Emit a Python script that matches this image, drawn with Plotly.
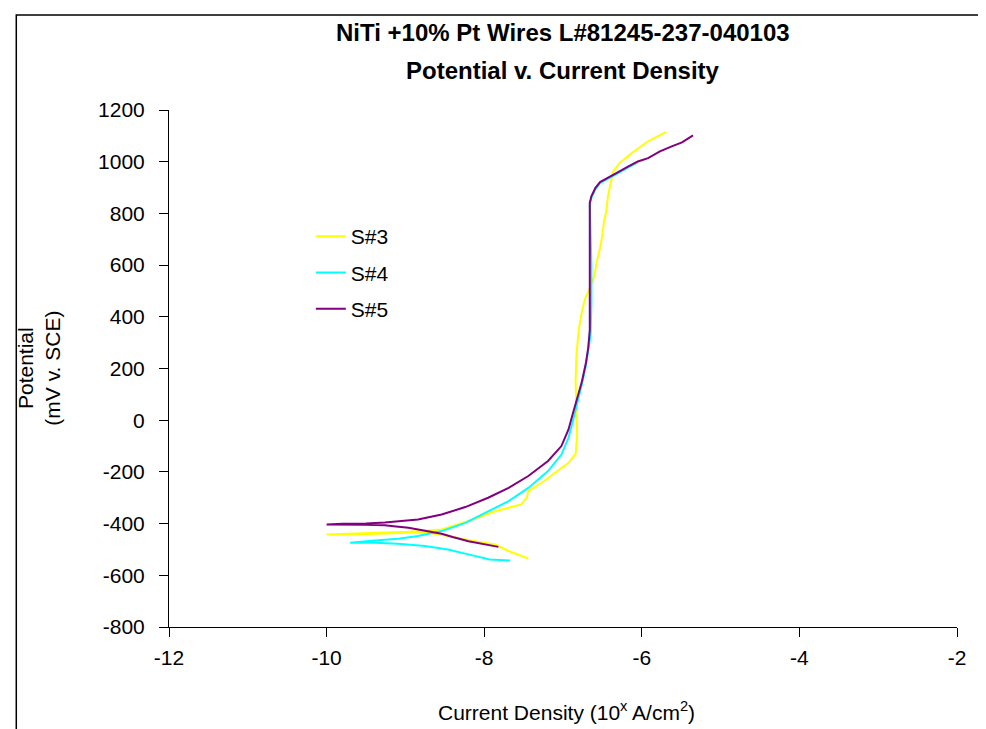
import plotly.graph_objects as go

# ---------------- data ----------------
title_line1 = "NiTi +10% Pt Wires L#81245-237-040103"
title_line2 = "Potential v. Current Density"
x_title = "Current Density (10<sup>x</sup> A/cm<sup>2</sup>)"
y_title = "Potential<br>(mV v. SCE)"

series_names = ["S#3", "S#4", "S#5"]
series_colors = ["#FFFF00", "#00FFFF", "#800080"]

# log10 current density (A/cm2) and potential (mV v. SCE)
s3_x = [-7.44, -7.69, -7.86, -8.12, -8.46, -8.71, -8.96, -9.26, -9.60, -10.0,
        -9.60, -9.26, -8.96, -8.54, -8.20, -7.86, -7.53, -7.46, -7.44, -7.27,
        -7.10, -6.93, -6.84, -6.82, -6.83, -6.84, -6.83, -6.80, -6.76, -6.72,
        -6.66, -6.60, -6.57, -6.53, -6.50, -6.48, -6.45, -6.43, -6.40, -6.36,
        -6.28, -6.13, -5.92, -5.69]
s3_y = [-535, -506, -481, -468, -448, -435, -435, -439, -441, -442,
        -438, -436, -432, -423, -390, -352, -326, -300, -274, -242,
        -204, -165, -130, -60, 50, 150, 250, 350, 420, 470,
        510, 563, 615, 666, 718, 769, 808, 866, 911, 963,
        995, 1033, 1079, 1115]

s4_x = [-7.67, -7.93, -8.20, -8.46, -8.75, -9.09, -9.39, -9.70, -9.39, -9.09,
        -8.84, -8.54, -8.24, -7.95, -7.69, -7.44, -7.19, -7.02, -6.93, -6.88,
        -6.82, -6.76, -6.71, -6.68, -6.65, -6.64, -6.64, -6.65, -6.66, -6.64,
        -6.59, -6.53, -6.42, -6.30, -6.17, -6.05]
s4_y = [-543, -539, -519, -500, -487, -478, -474, -474, -465, -459,
        -448, -429, -397, -352, -313, -262, -197, -133, -68, -10,
        60, 140, 210, 270, 330, 450, 600, 720, 835, 860,
        893, 917, 937, 956, 978, 997]

s5_x = [-7.82, -8.00, -8.20, -8.40, -8.54, -8.75, -8.96, -9.15, -9.26, -9.50,
        -9.80, -10.0, -9.80, -9.50, -9.26, -9.05, -8.84, -8.54, -8.24, -7.95,
        -7.69, -7.44, -7.19, -7.02, -6.93, -6.88, -6.82, -6.76, -6.71, -6.68,
        -6.66, -6.66, -6.66, -6.66, -6.66, -6.64, -6.59, -6.53, -6.42, -6.30,
        -6.17, -6.05, -5.92, -5.77, -5.62, -5.49, -5.35]
s5_y = [-490, -480, -468, -452, -439, -428, -416, -410, -406, -404,
        -404, -403, -401, -400, -396, -390, -384, -365, -336, -300,
        -262, -216, -158, -100, -36, 20, 80, 150, 220, 280,
        350, 500, 650, 750, 841, 866, 898, 921, 941, 960,
        982, 1001, 1014, 1040, 1059, 1075, 1102]

x_tick_vals = [-12, -10, -8, -6, -4, -2]
x_tick_text = ["-12", "-10", "-8", "-6", "-4", "-2"]
y_tick_vals = [-800, -600, -400, -200, 0, 200, 400, 600, 800, 1000, 1200]
y_tick_text = ["-800", "-600", "-400", "-200", "0", "200", "400", "600",
               "800", "1000", "1200"]

series_x = [s3_x, s4_x, s5_x]
series_y = [s3_y, s4_y, s5_y]

# ---------------- figure ----------------
FONT = "Liberation Sans, Arial, sans-serif"

fig = go.Figure()
for name, color, xs, ys in zip(series_names, series_colors, series_x, series_y):
    fig.add_trace(go.Scatter(
        x=xs, y=ys, name=name, mode="lines",
        line=dict(color=color, width=2),
        legendgroup=name,
    ))

fig.update_layout(
    width=986, height=729,
    margin=dict(l=161, r=37, t=102, b=110),
    paper_bgcolor="white", plot_bgcolor="white",
    font=dict(family=FONT, size=21, color="black"),
    showlegend=True,
    legend=dict(
        x=0.180, y=0.795, xanchor="left", yanchor="top",
        bgcolor="rgba(0,0,0,0)", borderwidth=0,
        font=dict(family=FONT, size=21, color="black"),
        tracegroupgap=6,
    ),
    xaxis=dict(
        range=[-12, -2], tickvals=x_tick_vals, ticktext=x_tick_text,
        ticks="outside", ticklen=9,
        tickwidth=1, tickcolor="black", showline=True, linecolor="black",
        linewidth=1, showgrid=False, zeroline=False,
        tickfont=dict(family=FONT, size=21, color="black"),
        ticklabelstandoff=3,
    ),
    yaxis=dict(
        range=[-800, 1200], tickvals=y_tick_vals, ticktext=y_tick_text,
        ticks="outside", ticklen=9,
        tickwidth=1, tickcolor="black", showline=True, linecolor="black",
        linewidth=1, showgrid=False, zeroline=False,
        tickfont=dict(family=FONT, size=21, color="black"),
        ticklabelstandoff=10,
    ),
    annotations=[
        dict(text="<b>" + title_line1 + "</b>", xref="paper", yref="paper",
             x=0.5, y=1.150, xanchor="center", yanchor="middle", showarrow=False,
             font=dict(family=FONT, size=24, color="black")),
        dict(text="<b>" + title_line2 + "</b>", xref="paper", yref="paper",
             x=0.5, y=1.077, xanchor="center", yanchor="middle", showarrow=False,
             font=dict(family=FONT, size=24, color="black")),
        dict(text=x_title, xref="paper", yref="paper",
             x=0.505, y=-0.163, xanchor="center", yanchor="middle", showarrow=False,
             font=dict(family=FONT, size=21, color="black")),
        dict(text=y_title, xref="paper", yref="paper", textangle=-90,
             x=-0.166, y=0.5, xanchor="center", yanchor="middle", showarrow=False,
             font=dict(family=FONT, size=21, color="black")),
    ],
    shapes=[
        dict(type="rect", xref="paper", yref="paper",
             x0=-0.1938, x1=1.0455, y0=-0.24, y1=1.1836,
             line=dict(color="black", width=1.5), fillcolor="rgba(0,0,0,0)",
             layer="below"),
    ],
)

fig.write_html("out.html")
